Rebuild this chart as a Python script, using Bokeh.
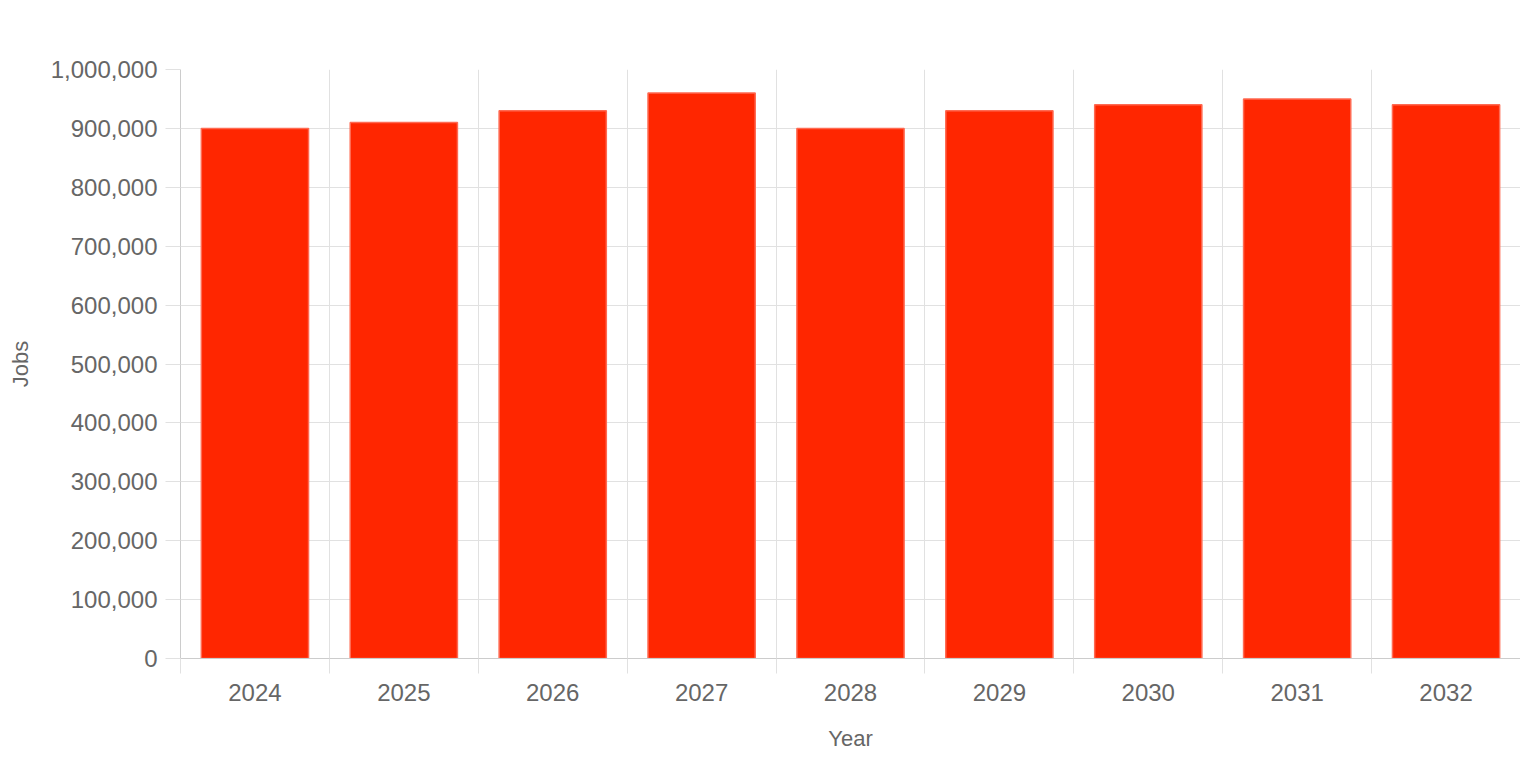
from bokeh.plotting import figure
from bokeh.models import ColumnDataSource, FixedTicker, NumeralTickFormatter, Range1d
from bokeh.embed import file_html
from bokeh.resources import INLINE

years = ["2024", "2025", "2026", "2027", "2028", "2029", "2030", "2031", "2032"]
jobs = [900000, 910000, 930000, 960000, 900000, 930000, 940000, 950000, 940000]
y_ticks = [0, 100000, 200000, 300000, 400000, 500000, 600000, 700000, 800000, 900000, 1000000]

n = len(years)
centers = [i + 0.5 for i in range(n)]
bounds = list(range(n + 1))

src = ColumnDataSource(dict(x=centers, top=jobs, year=years))

FONT = "Liberation Sans"
TXT = "#666666"
GRID = "#e1e1e1"
AXIS = "#cccccc"

p = figure(width=1520, height=760, output_backend="svg", toolbar_location=None,
           x_range=Range1d(0, n), y_range=Range1d(0, 1000000),
           min_border_left=180, min_border_right=0, min_border_top=69, min_border_bottom=102)
p.outline_line_color = None
p.background_fill_color = "white"

p.vbar(x="x", top="top", width=0.72, source=src,
       fill_color="#ff2600", line_color="#ff6a52", line_width=1.5)

# x axis: labels at centers, tick marks at category boundaries (minor)
xa = p.xaxis[0]
xa.ticker = FixedTicker(ticks=centers, minor_ticks=bounds)
xa.major_label_overrides = {c: y for c, y in zip(centers, years)}
xa.major_tick_out = 0
xa.major_tick_in = 0
xa.minor_tick_out = 15
xa.minor_tick_in = 0
xa.minor_tick_line_color = GRID
xa.axis_line_color = AXIS
xa.major_label_standoff = 10
xa.major_label_text_font = FONT
xa.major_label_text_font_size = "24px"
xa.major_label_text_color = TXT
xa.axis_label = "Year"
xa.axis_label_text_font = FONT
xa.axis_label_text_font_size = "22px"
xa.axis_label_text_font_style = "normal"
xa.axis_label_text_color = TXT
xa.axis_label_standoff = 22

ya = p.yaxis[0]
ya.ticker = FixedTicker(ticks=y_ticks, minor_ticks=[])
ya.formatter = NumeralTickFormatter(format="0,0")
ya.major_tick_out = 15
ya.major_tick_in = 0
ya.major_tick_line_color = GRID
ya.minor_tick_out = 0
ya.axis_line_color = AXIS
ya.major_label_standoff = 8
ya.major_label_text_font = FONT
ya.major_label_text_font_size = "24px"
ya.major_label_text_color = TXT
ya.axis_label = "Jobs"
ya.axis_label_text_font = FONT
ya.axis_label_text_font_size = "22px"
ya.axis_label_text_font_style = "normal"
ya.axis_label_text_color = TXT
ya.axis_label_standoff = 15

p.xgrid[0].ticker = FixedTicker(ticks=bounds)
p.xgrid[0].grid_line_color = GRID
p.ygrid[0].ticker = FixedTicker(ticks=y_ticks)
p.ygrid[0].grid_line_color = GRID

open("out.html", "w").write(file_html(p, INLINE))
